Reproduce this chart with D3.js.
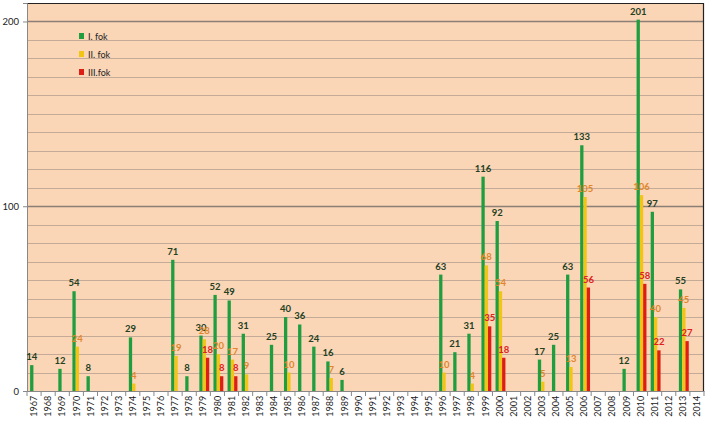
<!DOCTYPE html>
<html><head><meta charset="utf-8">
<script src="https://cdn.jsdelivr.net/npm/d3@7"></script>
<style>body{margin:0;background:#fff}svg{display:block}text{font-family:Lato,"Open Sans",sans-serif}</style>
</head><body><svg id="c" width="709" height="424"></svg>
<script>
const years = d3.range(1967, 2015).map(String);
const seriesNames = ["I. fok", "II. fok", "III.fok"];
const seriesI = {1967:14,1969:12,1970:54,1971:8,1974:29,1977:71,1978:8,1979:30,1980:52,1981:49,1982:31,1984:25,1985:40,1986:36,1987:24,1988:16,1989:6,1996:63,1997:21,1998:31,1999:116,2000:92,2003:17,2004:25,2005:63,2006:133,2009:12,2010:201,2011:97,2013:55};
const seriesII = {1970:24,1974:4,1977:19,1979:28,1980:20,1981:17,1982:9,1985:10,1988:7,1996:10,1998:4,1999:68,2000:54,2003:5,2005:13,2006:105,2010:106,2011:40,2013:45};
const seriesIII = {1979:18,1980:8,1981:8,1999:35,2000:18,2006:56,2010:58,2011:22,2013:27};
const yTicks = [0, 100, 200];
const colors = ["#1f9e40", "#f2c414", "#dc1e14"];
const labelColors = ["#23401f", "#e0862a", "#e0201a"];

const svg = d3.select("#c");
const L = 27, R = 704, T = 3, B = 391;
const x0 = d3.scaleBand().domain(years).range([L, R]).padding(0);
const step = x0.step();
const x1 = d3.scaleBand().domain([0,1,2]).range([step*0.22, step*0.92]).padding(0);
const y = d3.scaleLinear().domain([0, 210]).range([B, T]);

svg.append("rect").attr("x", L).attr("y", T).attr("width", R-L).attr("height", B-T).attr("fill", "#fad5b6");

// gridlines every 10
const grid = d3.range(10, 211, 10);
svg.append("g").selectAll("line").data(grid).join("line")
  .attr("x1", L).attr("x2", R).attr("y1", d => Math.round(y(d))+0.5).attr("y2", d => Math.round(y(d))+0.5)
  .attr("stroke", d => d % 100 === 0 ? "#8c7f76" : "#c4ab98").attr("stroke-width", d => d % 100 === 0 ? 1.3 : 1);

const all = [seriesI, seriesII, seriesIII];
const data = [];
years.forEach(yr => all.forEach((s, i) => { if (s[yr] !== undefined) data.push({yr, i, v: s[yr]}); }));

svg.append("g").selectAll("rect").data(data).join("rect")
  .attr("x", d => x0(d.yr) + x1(d.i)).attr("width", x1.bandwidth())
  .attr("y", d => y(d.v)).attr("height", d => B - y(d.v))
  .attr("fill", d => colors[d.i]);

// border
svg.append("path").attr("d", `M${L},${T+0.5}H${R-0.5}V${B}`).attr("fill","none").attr("stroke","#222").attr("stroke-width",1.2);

// x axis
const xAxis = d3.axisBottom(x0).tickSize(0).tickPadding(4);
const gx = svg.append("g").attr("transform", `translate(0,${B})`).call(xAxis);
gx.select(".domain").attr("stroke", "#888");
gx.selectAll("text").attr("transform", "rotate(-90)").attr("text-anchor", "end")
  .attr("dx", "-0.1em").attr("dy", "-0.35em").attr("x", -4).attr("y", 0)
  .attr("font-size", 9).attr("fill", "#222").attr("font-family", "Lato,sans-serif");
gx.selectAll("text").attr("transform", "rotate(-90)").attr("dy", "0.35em");
svg.append("g").selectAll("line").data(years.concat(["end"])).join("line")
  .attr("x1", d => d === "end" ? R : x0(d)).attr("x2", d => d === "end" ? R : x0(d))
  .attr("y1", B).attr("y2", B + 5).attr("stroke", "#888");

// y axis
const yAxis = d3.axisLeft(y).tickValues(yTicks).tickSize(4).tickPadding(4);
const gy = svg.append("g").attr("transform", `translate(${L},0)`).call(yAxis);
gy.select(".domain").attr("stroke", "#888");
gy.selectAll(".tick line").attr("stroke", "#888");
gy.selectAll("text").attr("font-size", 9.5).attr("fill", "#222").attr("font-family", "Lato,sans-serif");

// labels
svg.append("g").selectAll("text").data(data).join("text")
  .attr("x", d => x0(d.yr) + x1(d.i) + x1.bandwidth()/2)
  .attr("y", d => y(d.v) - 5)
  .attr("text-anchor", "middle").attr("font-size", 9.5).attr("font-weight", "bold")
  .attr("fill", d => labelColors[d.i]).text(d => d.v);

// legend
const lg = svg.append("g").selectAll("g").data(seriesNames).join("g")
  .attr("transform", (d, i) => `translate(79,${36 + i*18})`);
lg.append("rect").attr("x", 0).attr("y", -3).attr("width", 5).attr("height", 6).attr("fill", (d, i) => colors[i]);
lg.append("text").attr("x", 9).attr("y", 3.5).attr("font-size", 9).attr("fill", "#222").text(d => d);
</script></body></html>
